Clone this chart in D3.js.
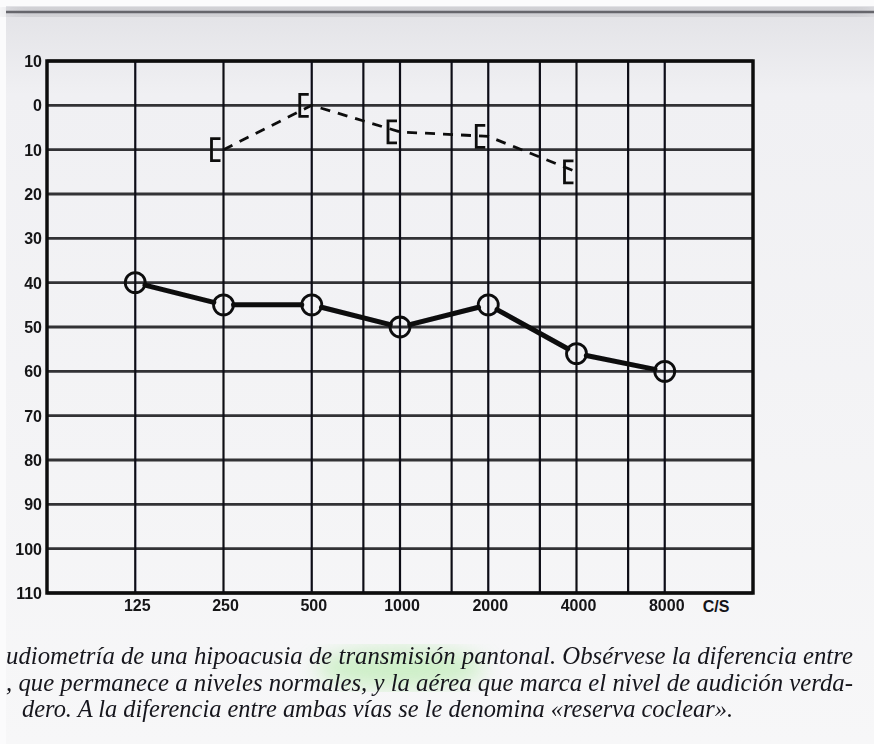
<!DOCTYPE html>
<html>
<head>
<meta charset="utf-8">
<script src="https://cdn.jsdelivr.net/npm/d3@7"></script>
<style>
  html, body { margin: 0; padding: 0; background: #ffffff; }
  svg { display: block; }
</style>
</head>
<body>
<div class="container"></div>
<script>
// frequencies (Hz) with measurements
const freqs = [125, 250, 500, 1000, 2000, 4000, 8000]
// air conduction thresholds (dB), solid line with circles
const airValues = [40, 45, 45, 50, 45, 56, 60]
// bone conduction thresholds (dB), dashed line with brackets
const boneFreqs = [250, 500, 1000, 2000, 4000]
const boneValues = [10, 0, 6, 7, 15]
// grid lines
const gridFreqs = [125, 250, 500, 750, 1000, 1500, 2000, 3000, 4000, 6000, 8000]
const dbTicks = [-10, 0, 10, 20, 30, 40, 50, 60, 70, 80, 90, 100, 110]
const dbTickLabels = ['10', '0', '10', '20', '30', '40', '50', '60', '70', '80', '90', '100', '110']
const freqTickLabels = ['125', '250', '500', '1000', '2000', '4000', '8000']
const unitLabel = 'C/S'
const captionLines = [
  'udiometría de una hipoacusia de transmisión pantonal. Obsérvese la diferencia entre',
  ', que permanece a niveles normales, y la aérea que marca el nivel de audición verda-',
  'dero. A la diferencia entre ambas vías se le denomina «reserva coclear».'
]

const W = 874
const H = 744
const frame = { left: 47, right: 753, top: 61, bottom: 593 }

const svg = d3.select('.container')
  .append('svg')
  .attr('width', W)
  .attr('height', H)

// paper background
const defs = svg.append('defs')
const grad = defs.append('linearGradient')
  .attr('id', 'paper').attr('x1', 0).attr('y1', 0).attr('x2', 0).attr('y2', 1)
grad.append('stop').attr('offset', '0').attr('stop-color', '#e2e2e6')
grad.append('stop').attr('offset', '0.12').attr('stop-color', '#f0f0f3')
grad.append('stop').attr('offset', '1').attr('stop-color', '#f7f7f8')
defs.append('filter').attr('id', 'soft')
  .append('feGaussianBlur').attr('stdDeviation', 10)
defs.append('filter').attr('id', 'ink')
  .append('feGaussianBlur').attr('stdDeviation', 0.5)

svg.append('rect')
  .attr('x', 0).attr('y', 0).attr('width', W).attr('height', H)
  .attr('fill', '#fbfbfc')
svg.append('rect')
  .attr('x', 6).attr('y', 6).attr('width', W - 6).attr('height', H - 6)
  .attr('fill', 'url(#paper)')
// page edge line at the top
svg.append('rect')
  .attr('x', 6).attr('y', 8).attr('width', W - 6).attr('height', 8)
  .attr('fill', '#8a8a90').attr('filter', 'url(#soft)').attr('opacity', 0.7)
svg.append('line')
  .attr('x1', 6).attr('x2', W).attr('y1', 12).attr('y2', 12)
  .attr('stroke', '#66666c').attr('stroke-width', 2.5)

// green highlighter smear
svg.append('ellipse')
  .attr('cx', 400).attr('cy', 668).attr('rx', 85).attr('ry', 20)
  .attr('fill', '#b3eaa8').attr('opacity', 0.6).attr('filter', 'url(#soft)')

const x = d3.scaleLog().base(2)
  .domain([62.5, 16000])
  .range([frame.left, frame.right])
const y = d3.scaleLinear()
  .domain([-10, 110])
  .range([frame.top, frame.bottom])

const g = svg.append('g').attr('filter', 'url(#ink)')

// horizontal grid lines
g.selectAll('line.h')
  .data(dbTicks)
  .enter().append('line')
  .attr('class', 'h')
  .attr('x1', frame.left).attr('x2', frame.right)
  .attr('y1', function (d) { return y(d) }).attr('y2', function (d) { return y(d) })
  .attr('stroke', '#303034')
  .attr('stroke-width', 2.8)

// vertical grid lines
g.selectAll('line.v')
  .data(gridFreqs)
  .enter().append('line')
  .attr('class', 'v')
  .attr('x1', function (d) { return x(d) }).attr('x2', function (d) { return x(d) })
  .attr('y1', frame.top).attr('y2', frame.bottom)
  .attr('stroke', '#101018')
  .attr('stroke-width', 2.2)

// frame
g.append('rect')
  .attr('x', frame.left).attr('y', frame.top)
  .attr('width', frame.right - frame.left)
  .attr('height', frame.bottom - frame.top)
  .attr('fill', 'none')
  .attr('stroke', '#111')
  .attr('stroke-width', 3.5)

// y tick labels
svg.append('g')
  .attr('filter', 'url(#ink)')
  .selectAll('text')
  .data(dbTicks)
  .enter().append('text')
  .attr('x', 42)
  .attr('y', function (d) { return y(d) + 6 })
  .attr('text-anchor', 'end')
  .attr('font-family', 'Liberation Sans, Arial, sans-serif')
  .attr('font-weight', 'bold')
  .attr('font-size', 16)
  .attr('fill', '#141418')
  .text(function (d, i) { return dbTickLabels[i] })

// x tick labels
svg.append('g')
  .attr('filter', 'url(#ink)')
  .selectAll('text')
  .data(freqs)
  .enter().append('text')
  .attr('x', function (d) { return x(d) + 2 })
  .attr('y', 611)
  .attr('text-anchor', 'middle')
  .attr('font-family', 'Liberation Sans, Arial, sans-serif')
  .attr('font-weight', 'bold')
  .attr('font-size', 16)
  .attr('fill', '#141418')
  .text(function (d, i) { return freqTickLabels[i] })

svg.append('text')
  .attr('x', x(8000) + 38)
  .attr('y', 612)
  .attr('font-family', 'Liberation Sans, Arial, sans-serif')
  .attr('font-weight', 'bold')
  .attr('font-size', 16)
  .attr('fill', '#141418')
  .text(unitLabel)

// bone conduction: dashed line and brackets
const bone = boneFreqs.map(function (f, i) { return { f: f, v: boneValues[i] } })
const boneLine = d3.line()
  .x(function (d) { return x(d.f) })
  .y(function (d) { return y(d.v) })
g.append('path')
  .attr('d', boneLine(bone))
  .attr('fill', 'none')
  .attr('stroke', '#111')
  .attr('stroke-width', 2.8)
  .attr('stroke-dasharray', '10,8')
g.selectAll('path.bracket')
  .data(bone)
  .enter().append('path')
  .attr('class', 'bracket')
  .attr('d', function (d) {
    const cx = x(d.f)
    const cy = y(d.v)
    return 'M' + (cx - 3) + ',' + (cy - 11) +
      'H' + (cx - 12) + 'V' + (cy + 11) + 'H' + (cx - 3)
  })
  .attr('fill', 'none')
  .attr('stroke', '#111')
  .attr('stroke-width', 2.8)

// air conduction: solid line trimmed at circle edges, with circles
const r = 10
const air = freqs.map(function (f, i) { return { f: f, v: airValues[i] } })
const segs = d3.pairs(air).map(function (p) {
  const x1 = x(p[0].f); const y1 = y(p[0].v)
  const x2 = x(p[1].f); const y2 = y(p[1].v)
  const len = Math.hypot(x2 - x1, y2 - y1)
  const ux = (x2 - x1) / len; const uy = (y2 - y1) / len
  return [x1 + ux * r, y1 + uy * r, x2 - ux * r, y2 - uy * r]
})
g.selectAll('line.air')
  .data(segs)
  .enter().append('line')
  .attr('class', 'air')
  .attr('x1', function (d) { return d[0] }).attr('y1', function (d) { return d[1] })
  .attr('x2', function (d) { return d[2] }).attr('y2', function (d) { return d[3] })
  .attr('stroke', '#0a0a0e')
  .attr('stroke-width', 5)
  .attr('stroke-linecap', 'round')
g.selectAll('circle.air')
  .data(air)
  .enter().append('circle')
  .attr('class', 'air')
  .attr('cx', function (d) { return x(d.f) })
  .attr('cy', function (d) { return y(d.v) })
  .attr('r', r)
  .attr('fill', 'none')
  .attr('stroke', '#0a0a0e')
  .attr('stroke-width', 2.8)

// caption
const capX = [6, 6, 22]
const capEnd = [853, 853, 733]
const capY = [664, 691, 717]
svg.append('g')
  .attr('filter', 'url(#ink)')
  .selectAll('text')
  .data(captionLines)
  .enter().append('text')
  .attr('x', function (d, i) { return capX[i] })
  .attr('y', function (d, i) { return capY[i] })
  .attr('textLength', function (d, i) { return capEnd[i] - capX[i] })
  .attr('lengthAdjust', 'spacingAndGlyphs')
  .attr('font-family', 'Liberation Serif, Times New Roman, serif')
  .attr('font-style', 'italic')
  .attr('font-size', 25)
  .attr('fill', '#15151c')
  .text(function (d) { return d })
</script>
</body>
</html>
